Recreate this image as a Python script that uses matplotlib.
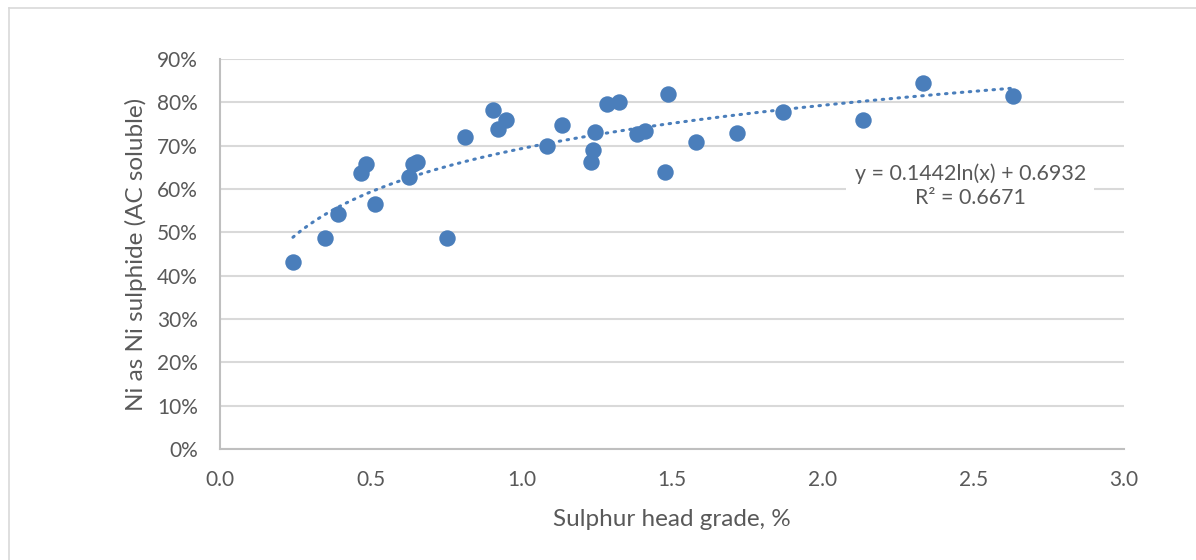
#!/usr/bin/env python3
import numpy as np
import matplotlib
matplotlib.use('Agg')
import matplotlib.pyplot as plt

# Sulphur head grade (%) vs. Ni as Ni sulphide (fraction)
s_grade = [0.242, 0.348, 0.392, 0.468, 0.485, 0.514, 0.627, 0.641, 0.654, 0.752,
           0.812, 0.907, 0.922, 0.949, 1.084, 1.134, 1.231, 1.237, 1.246, 1.283,
           1.324, 1.385, 1.411, 1.477, 1.488, 1.580, 1.717, 1.867, 2.133, 2.333,
           2.633]
ni_sulphide = [0.431, 0.486, 0.542, 0.637, 0.658, 0.566, 0.628, 0.658, 0.662, 0.486,
               0.720, 0.782, 0.738, 0.760, 0.699, 0.747, 0.662, 0.690, 0.731, 0.795,
               0.801, 0.727, 0.735, 0.639, 0.820, 0.708, 0.729, 0.777, 0.760, 0.845,
               0.815]

# log trendline as given by the spreadsheet
trend_a = 0.1442
trend_b = 0.6932
trend_r2 = 0.6671

BLUE = '#4a7ebb'
GREY_TXT = '#595959'
GRID = '#d9d9d9'

plt.rcParams['font.family'] = ['Lato', 'DejaVu Sans']

fig = plt.figure(figsize=(11.96, 5.6), dpi=100)
ax = fig.add_axes([220 / 1196, 1 - 449 / 560, 904 / 1196, 390 / 560])

# chart border (only top and left visible in the crop)
fig.add_artist(plt.Line2D([9 / 1196, 1], [1 - 8 / 560] * 2, color=GRID, lw=1.2,
                          transform=fig.transFigure))
fig.add_artist(plt.Line2D([9 / 1196] * 2, [0, 1 - 8 / 560], color=GRID, lw=1.2,
                          transform=fig.transFigure))

ax.scatter(s_grade, ni_sulphide, s=140, color=BLUE, zorder=3, linewidths=0)

xt = np.linspace(min(s_grade), max(s_grade), 200)
ax.plot(xt, trend_a * np.log(xt) + trend_b, color=BLUE, lw=2.2,
        linestyle=(0, (0.5, 2.1)), dash_capstyle='round', zorder=2)

ax.set_xlim(0, 3.0)
ax.set_ylim(0, 0.9)
ax.set_xticks(np.arange(0, 3.01, 0.5))
ax.set_xticklabels([f'{v:.1f}' for v in np.arange(0, 3.01, 0.5)])
ax.set_yticks(np.arange(0, 0.91, 0.1))
ax.set_yticklabels([f'{int(round(v * 100))}%' for v in np.arange(0, 0.91, 0.1)])

ax.grid(axis='y', color=GRID, lw=1.5, zorder=0)
ax.set_axisbelow(True)
for side in ['top', 'right']:
    ax.spines[side].set_visible(False)
ax.spines['left'].set_color('#bfbfbf')
ax.spines['bottom'].set_color('#bfbfbf')
ax.spines['left'].set_linewidth(1.5)
ax.spines['bottom'].set_linewidth(1.5)
ax.tick_params(length=0, labelsize=15, labelcolor=GREY_TXT, pad=16)
ax.tick_params(axis='x', pad=15)

ax.set_xlabel('Sulphur head grade, %', fontsize=17.5, color=GREY_TXT, labelpad=14)
ax.set_ylabel('Ni as Ni sulphide (AC soluble)', fontsize=17.5, color=GREY_TXT, labelpad=7)

ax.text(2.49, 0.608, f'y = {trend_a}ln(x) + {trend_b}\nR² = {trend_r2}',
        ha='center', va='center', fontsize=15.4, color=GREY_TXT, linespacing=1.25,
        bbox=dict(facecolor='white', edgecolor='none', pad=6), zorder=4)

fig.savefig('out.png', dpi=100)
